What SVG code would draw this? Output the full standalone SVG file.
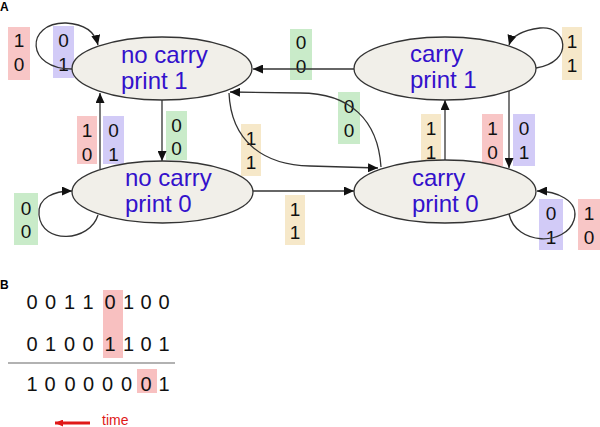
<svg xmlns="http://www.w3.org/2000/svg" width="600" height="427" viewBox="0 0 600 427">
<defs>
<marker id="ah" markerUnits="userSpaceOnUse" markerWidth="11" markerHeight="9" refX="10" refY="4.5" orient="auto">
<path d="M0,0 L10,4.5 L0,9 z" fill="#111"/>
</marker>
<marker id="ahr" markerUnits="userSpaceOnUse" markerWidth="9" markerHeight="7" refX="8" refY="3.5" orient="auto">
<path d="M0,0 L8,3.5 L0,7 z" fill="#e01818"/>
</marker>
<style>
.st{fill:#f1efe9;stroke:#333;stroke-width:1.3}
.sl{font-family:"Liberation Sans",Arial,sans-serif;font-size:24px;fill:#3311cc}
.c{fill:none;stroke:#333;stroke-width:1.3;marker-end:url(#ah)}
.d{font-family:"Liberation Sans",Arial,sans-serif;font-size:19px;fill:#111;text-anchor:middle}
.pk{fill:#f8c6c6}.lv{fill:#d2cbf7}.gr{fill:#c9ebc9}.tn{fill:#f6e8c9}
.b{font-family:"Liberation Sans",Arial,sans-serif;font-size:20px;fill:#111}
.lab{font-family:"Liberation Sans",Arial,sans-serif;font-size:12px;font-weight:bold;fill:#000}
</style>
</defs>
<rect width="600" height="427" fill="#fff"/>
<text class="lab" x="0" y="11">A</text>
<text class="lab" x="0" y="289">B</text>

<g id="labels">
<rect class="pk" x="8" y="27" width="22" height="53"/><text class="d" x="19" y="47">1</text><text class="d" x="19" y="71">0</text>
<rect class="lv" x="53" y="26" width="21" height="52"/><text class="d" x="63.5" y="47">0</text><text class="d" x="63.5" y="71">1</text>
<rect class="gr" x="290" y="29" width="22" height="51"/><text class="d" x="301" y="49">0</text><text class="d" x="301" y="73">0</text>
<rect class="tn" x="562" y="27" width="20" height="53"/><text class="d" x="572" y="48">1</text><text class="d" x="572" y="72">1</text>
<rect class="pk" x="77" y="116" width="20" height="48"/><text class="d" x="87" y="137">1</text><text class="d" x="87" y="161">0</text>
<rect class="lv" x="103" y="116" width="21" height="48"/><text class="d" x="113.5" y="137">0</text><text class="d" x="113.5" y="161">1</text>
<rect class="gr" x="166" y="111" width="21" height="49"/><text class="d" x="176.5" y="132">0</text><text class="d" x="176.5" y="155">0</text>
<rect class="tn" x="241" y="124" width="20" height="52"/><text class="d" x="251" y="145">1</text><text class="d" x="251" y="169">1</text>
<rect class="gr" x="338" y="92" width="22" height="52"/><text class="d" x="349" y="113">0</text><text class="d" x="349" y="137">0</text>
<rect class="tn" x="421" y="114" width="20" height="52"/><text class="d" x="431" y="135">1</text><text class="d" x="431" y="159">1</text>
<rect class="pk" x="482" y="114" width="21" height="52"/><text class="d" x="492.5" y="135">1</text><text class="d" x="492.5" y="159">0</text>
<rect class="lv" x="513" y="114" width="22" height="52"/><text class="d" x="524" y="135">0</text><text class="d" x="524" y="159">1</text>
<rect class="gr" x="14" y="193" width="24" height="52"/><text class="d" x="26" y="215">0</text><text class="d" x="26" y="238">0</text>
<rect class="tn" x="285" y="195" width="20" height="50"/><text class="d" x="295" y="216">1</text><text class="d" x="295" y="239">1</text>
<rect class="lv" x="539" y="199" width="24" height="51"/><text class="d" x="551" y="220">0</text><text class="d" x="551" y="244">1</text>
<rect class="pk" x="578" y="199" width="22" height="51"/><text class="d" x="589" y="220">1</text><text class="d" x="589" y="244">0</text>
</g>

<g id="connectors">
<path class="c" d="M73,69 C25,70 25,22 66,23 C84,24 95,32 98,45"/>
<path class="c" d="M536,68 C575,62 567,25 540,28 C525,30 512,35 509,45"/>
<path class="c" d="M98,215 C90,242 42,245 39,215 C37,197 55,191 72,191"/>
<path class="c" d="M509,214 C516,246 566,246 574,220 C580,200 555,191 537,191"/>
<path class="c" d="M354,69 L253,69"/>
<path class="c" d="M162,100 L162,161"/>
<path class="c" d="M100,169 L100,93"/>
<path class="c" d="M253,191 L354,191"/>
<path class="c" d="M445,160 L445,100"/>
<path class="c" d="M509,90 L509,168"/>
<path class="c" d="M381,167 C378,120 350,93 300,93 L230,92"/>
<path class="c" d="M229,93 C231,140 262,165 310,166 L378,168"/>
</g>

<g id="node-nc1">
<ellipse class="st" cx="162" cy="68.5" rx="90" ry="31.5"/>
<text class="sl" x="121" y="63">no carry</text>
<text class="sl" x="121" y="89">print 1</text>
</g>
<g id="node-c1">
<ellipse class="st" cx="445" cy="68.5" rx="91" ry="31.5"/>
<text class="sl" x="410" y="62">carry</text>
<text class="sl" x="410" y="88">print 1</text>
</g>
<g id="node-nc0">
<ellipse class="st" cx="162.5" cy="192" rx="90.5" ry="31"/>
<text class="sl" x="125" y="186">no carry</text>
<text class="sl" x="125" y="212">print 0</text>
</g>
<g id="node-c0">
<ellipse class="st" cx="445" cy="191.5" rx="91" ry="31.5"/>
<text class="sl" x="412" y="186">carry</text>
<text class="sl" x="412" y="212">print 0</text>
</g>

<g id="addition">
<rect x="103" y="290" width="20" height="68" fill="#f8c0c0"/>
<rect x="137" y="369" width="20" height="24" fill="#f8c0c0"/>
<text class="b" y="309"><tspan x="26.4">0 </tspan><tspan x="44.9">0 </tspan><tspan x="63.9">1 </tspan><tspan x="82.4">1 </tspan><tspan x="104.4">0 </tspan><tspan x="122.9">1 </tspan><tspan x="140.4">0 </tspan><tspan x="158.4">0</tspan></text>
<text class="b" y="351"><tspan x="26.4">0 </tspan><tspan x="44.9">1 </tspan><tspan x="63.9">0 </tspan><tspan x="82.4">0 </tspan><tspan x="104.4">1 </tspan><tspan x="122.9">1 </tspan><tspan x="140.4">0 </tspan><tspan x="158.4">1</tspan></text>
<line x1="8" y1="363" x2="175" y2="363" stroke="#999" stroke-width="1.5"/>
<text class="b" y="391"><tspan x="26.4">1 </tspan><tspan x="44.4">0 </tspan><tspan x="64.4">0 </tspan><tspan x="82.9">0 </tspan><tspan x="101.9">0 </tspan><tspan x="120.9">0 </tspan><tspan x="140.4">0 </tspan><tspan x="158.4">1</tspan></text>
<line x1="90" y1="423" x2="55" y2="423" stroke="#e01818" stroke-width="3" marker-end="url(#ahr)"/>
<text x="102" y="425" font-family="Liberation Sans, Arial, sans-serif" font-size="14" fill="#e01818">time</text>
</g>
</svg>
